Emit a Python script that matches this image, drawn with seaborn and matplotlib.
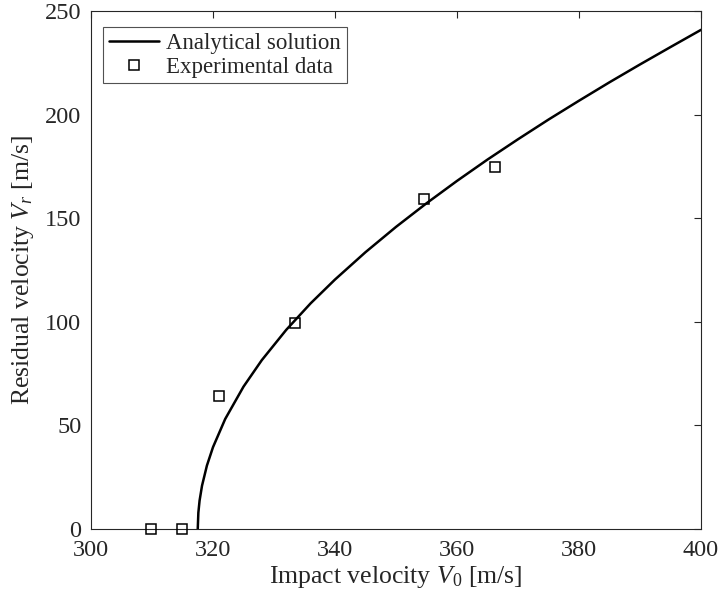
import matplotlib
matplotlib.use("Agg")
import matplotlib.pyplot as plt
import seaborn as sns
import pandas as pd

# Analytical curve
curve_v0 = [317.5, 317.6, 317.8, 318.2, 319, 320, 322, 325, 328, 332, 336, 340,
            345, 350, 355, 360, 365, 370, 375, 380, 385, 390, 395, 400]
curve_vr = [0.0, 7.9, 13.7, 20.9, 30.6, 39.5, 53.1, 68.7, 81.5, 96.1, 108.9, 120.4,
            133.6, 145.8, 157.2, 168.0, 178.3, 188.1, 197.6, 206.7, 215.6, 224.2, 232.6, 240.9]

# Experimental data
exp_v0 = [309.8, 315.0, 321.0, 333.4, 354.6, 366.2]
exp_vr = [0.0, 0.0, 64.0, 99.5, 159.5, 174.5]

xticks = [300, 320, 340, 360, 380, 400]
yticks = [0, 50, 100, 150, 200, 250]

sns.set_theme(style="white")
plt.rcParams['font.family'] = ['Liberation Serif', 'DejaVu Serif']
plt.rcParams['mathtext.fontset'] = 'custom'
plt.rcParams['mathtext.rm'] = 'Liberation Serif'
plt.rcParams['mathtext.it'] = 'Liberation Serif:italic'

fig = plt.figure(figsize=(7.21, 6.0), dpi=100)
ax = fig.add_axes([0.1262, 0.1183, 0.8461, 0.8634])

df_c = pd.DataFrame({"v0": curve_v0, "vr": curve_vr})
df_e = pd.DataFrame({"v0": exp_v0, "vr": exp_vr})

sns.lineplot(data=df_c, x="v0", y="vr", ax=ax, color="black", linewidth=1.8,
             label="Analytical solution", sort=False, estimator=None)
ax.plot(df_e["v0"], df_e["vr"], linestyle="none", marker="s", markersize=6.5,
        markerfacecolor="none", markeredgecolor="black", markeredgewidth=1.1,
        label="Experimental data", clip_on=False, zorder=5)

ax.set_xlim(300, 400)
ax.set_ylim(0, 250)
ax.set_xticks(xticks)
ax.set_yticks(yticks)
ax.tick_params(direction="in", length=5, width=0.8, color="#262626",
               top=True, right=True, labelsize=17.5, labelcolor="#262626")
ax.tick_params(axis="x", pad=8)
ax.tick_params(axis="y", pad=7)
for s in ax.spines.values():
    s.set_color("#262626")
    s.set_linewidth(0.8)

ax.set_xlabel(r"Impact velocity $\mathit{V_0}$ [m/s]", fontsize=18.5, color="#262626", labelpad=2)
ax.set_ylabel(r"Residual velocity $\mathit{V_r}$ [m/s]", fontsize=18.5, color="#262626", labelpad=6)

leg = ax.legend(loc="upper left", bbox_to_anchor=(0.0197, 0.969), borderaxespad=0,
                fontsize=16.5, frameon=True, fancybox=False,
                edgecolor="#262626", borderpad=0.25, handlelength=2.2,
                handletextpad=0.3, labelspacing=0.12)
leg.get_frame().set_linewidth(0.8)
for t in leg.get_texts():
    t.set_color("#262626")

fig.savefig("out.png", dpi=100)
